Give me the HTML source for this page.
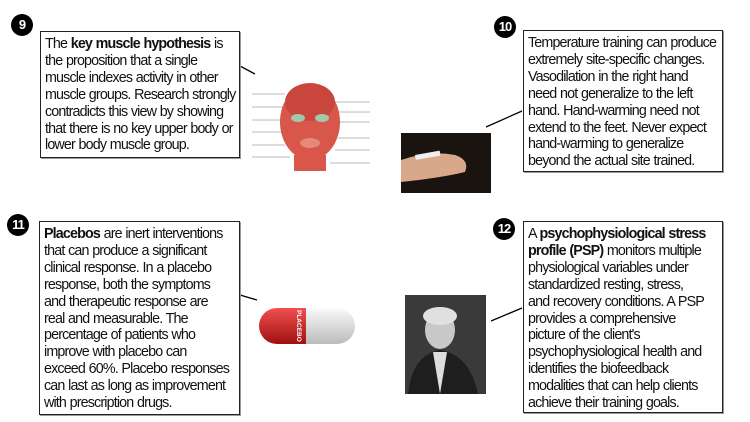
<!DOCTYPE html>
<html><head><meta charset="utf-8"><style>
body{margin:0;width:750px;height:422px;background:#fff;position:relative;overflow:hidden;font-family:"Liberation Sans",Arial,sans-serif;}
.box{position:absolute;border:1.5px solid #222;box-sizing:border-box;font-size:14.3px;line-height:16.9px;color:#111;letter-spacing:-0.85px;word-spacing:0.5px;white-space:nowrap;padding:4px 0 0 4px;box-shadow:1px 1px 0 #999;}
.badge{position:absolute;width:22px;height:22px;border-radius:50%;background:#000;color:#fff;font-weight:bold;font-size:13px;line-height:22px;text-align:center;letter-spacing:-1px;}
svg{position:absolute;left:0;top:0}
</style></head><body>
<svg width="750" height="422">
<line x1="240" y1="66" x2="255" y2="74" stroke="#000" stroke-width="1.3"/>
<line x1="486" y1="127" x2="522" y2="111" stroke="#000" stroke-width="1.3"/>
<line x1="240" y1="295" x2="257" y2="300" stroke="#000" stroke-width="1.3"/>
<line x1="491" y1="321" x2="522" y2="308" stroke="#000" stroke-width="1.3"/>
<!-- face -->
<ellipse cx="310" cy="122" rx="30" ry="38" fill="#d9574a"/>
<ellipse cx="310" cy="102" rx="25" ry="19" fill="#c9463d"/>
<ellipse cx="298" cy="118" rx="7" ry="4" fill="#9fc9a8"/>
<ellipse cx="322" cy="118" rx="7" ry="4" fill="#9fc9a8"/>
<ellipse cx="310" cy="143" rx="10" ry="5" fill="#e58a7a"/>
<rect x="294" y="155" width="32" height="16" fill="#d9574a"/>
<g stroke="#777" stroke-width="0.5">
<line x1="252" y1="94" x2="285" y2="94"/><line x1="252" y1="107" x2="283" y2="107"/><line x1="252" y1="120" x2="283" y2="120"/><line x1="252" y1="132" x2="283" y2="132"/><line x1="252" y1="145" x2="285" y2="145"/><line x1="252" y1="157" x2="290" y2="157"/>
<line x1="335" y1="102" x2="370" y2="102"/><line x1="338" y1="112" x2="370" y2="112"/><line x1="338" y1="122" x2="370" y2="122"/><line x1="338" y1="138" x2="370" y2="138"/><line x1="335" y1="150" x2="370" y2="150"/><line x1="330" y1="163" x2="370" y2="163"/>
</g>
<!-- hand photo -->
<rect x="401" y="133" width="90" height="60" fill="#1a1410"/>
<path d="M401 160 Q430 150 455 155 Q470 160 465 172 Q440 178 401 182 Z" fill="#d9a88a"/>
<rect x="415" y="155" width="25" height="5" fill="#eee" transform="rotate(-10 415 155)"/>
<!-- pill -->
<defs><linearGradient id="r" x1="0" y1="0" x2="0" y2="1"><stop offset="0" stop-color="#f05050"/><stop offset="1" stop-color="#a01010"/></linearGradient>
<linearGradient id="w" x1="0" y1="0" x2="0" y2="1"><stop offset="0" stop-color="#fafafa"/><stop offset="1" stop-color="#bbb"/></linearGradient></defs>
<path d="M306 308 H337 A18 18 0 0 1 337 344 H306 Z" fill="url(#w)"/>
<path d="M306 308 H277 A18 18 0 0 0 277 344 H306 Z" fill="url(#r)"/>
<text x="0" y="0" transform="translate(297,310) rotate(90)" font-size="6.5" fill="#fff" font-family="Liberation Sans" font-weight="bold">PLACEBO</text>
<!-- portrait -->
<rect x="405" y="295" width="81" height="99" fill="#3a3a3a"/>
<ellipse cx="440" cy="330" rx="15" ry="19" fill="#c8c8c8"/>
<ellipse cx="440" cy="316" rx="17" ry="9" fill="#e0e0e0"/>
<path d="M408 394 Q412 355 440 350 Q470 355 478 394 Z" fill="#1e1e1e"/>
<path d="M433 352 L440 394 L447 352 Z" fill="#ddd"/>
</svg>
<div class="badge" style="left:11px;top:14px">9</div>
<div class="badge" style="left:494px;top:16px">10</div>
<div class="badge" style="left:7px;top:214px">11</div>
<div class="badge" style="left:493px;top:218px">12</div>

<div class="box" style="left:40px;top:31px;width:200px;height:127px">The <b>key muscle hypothesis</b> is<br>the proposition that a single<br>muscle indexes activity in other<br>muscle groups. Research strongly<br>contradicts this view by showing<br>that there is no key upper body or<br>lower body muscle group.</div>

<div class="box" style="left:523px;top:30px;width:200px;height:142px">Temperature training can produce<br>extremely site-specific changes.<br>Vasodilation in the right hand<br>need not generalize to the left<br>hand. Hand-warming need not<br>extend to the feet. Never expect<br>hand-warming to generalize<br>beyond the actual site trained.</div>

<div class="box" style="left:39px;top:221px;width:201px;height:194px"><b>Placebos</b> are inert interventions<br>that can produce a significant<br>clinical response. In a placebo<br>response, both the symptoms<br>and therapeutic response are<br>real and measurable. The<br>percentage of patients who<br>improve with placebo can<br>exceed 60%. Placebo responses<br>can last as long as improvement<br>with prescription drugs.</div>

<div class="box" style="left:523px;top:221px;width:200px;height:192px">A <b>psychophysiological stress<br>profile (PSP)</b> monitors multiple<br>physiological variables under<br>standardized resting, stress,<br>and recovery conditions. A PSP<br>provides a comprehensive<br>picture of the client's<br>psychophysiological health and<br>identifies the biofeedback<br>modalities that can help clients<br>achieve their training goals.</div>
</body></html>
